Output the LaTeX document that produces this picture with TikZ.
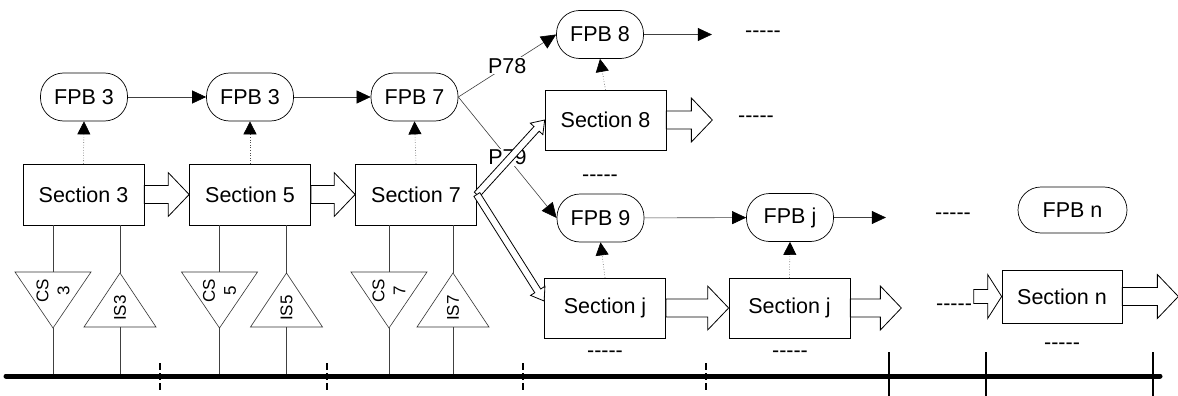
\documentclass[tikz,border=0pt]{standalone}
\usepackage{fontspec}
\setmainfont{Liberation Sans}
\usetikzlibrary{calc,arrows.meta}
\newcommand\fivedash{-{}-{}-{}-{}-}
\begin{document}
\begin{tikzpicture}[x=1pt,y=-1pt,
  every node/.style={font=\fontsize{21.5}{25}\selectfont},
  fpb/.style={draw=black, line width=0.7pt, fill=white, rounded corners=23pt,
    minimum width=87pt, minimum height=48pt, inner sep=0pt},
  sect/.style={draw=black, line width=0.7pt, fill=white,
    minimum width=121pt, minimum height=61pt, inner sep=0pt},
  wire/.style={draw=black!75, line width=0.6pt},
  flow/.style={wire, -{Triangle[length=14pt,width=13pt,color=black]}},
  feed/.style={draw=black!70, line width=0.6pt, dotted,
    -{Triangle[length=13pt,width=13pt,color=black]}},
  tri/.style={draw=black!80, line width=0.6pt},
  trilbl/.style={rotate=90, align=center, inner sep=0pt,
    font=\fontsize{17}{21}\selectfont},
  gap/.style={inner sep=0pt},
  plbl/.style={fill=white, inner sep=1pt},
  bus/.style={line width=5pt, line cap=round},
  dtick/.style={line width=1.3pt, dash pattern=on 7pt off 3pt},
  stick/.style={line width=1.6pt},
  % hollow block arrow: shaft half width, head half width, head length
  blockarrow/.style n args={3}{draw=black, fill=white, line width=0.8pt,
    to path={
      ($(\tikztostart)!#1!90:(\tikztotarget)$)
      -- ($(\tikztotarget)!#3!(\tikztostart)!#1!-90:(\tikztostart)$)
      -- ($(\tikztotarget)!#3!(\tikztostart)!#2!-90:(\tikztostart)$)
      -- (\tikztotarget)
      -- ($(\tikztotarget)!#3!(\tikztostart)!#2!90:(\tikztostart)$)
      -- ($(\tikztotarget)!#3!(\tikztostart)!#1!90:(\tikztostart)$)
      -- ($(\tikztostart)!#1!-90:(\tikztotarget)$)
      -- cycle}},
  wide/.style={blockarrow={9pt}{22pt}{21pt}},
  slim/.style={blockarrow={3.5pt}{8.5pt}{12pt}}
]
\useasboundingbox (0,0) rectangle (1178,396);

% function blocks
\node[fpb] (fpb3a) at (84,97) {FPB 3};
\node[fpb] (fpb3b) at (250,97) {FPB 3};
\node[fpb] (fpb7) at (414.5,97) {FPB 7};
\node[fpb] (fpb8) at (600,34.5) {FPB 8};
\node[fpb] (fpb9) at (600.5,218) {FPB 9};
\node[fpb] (fpbj) at (790,217.5) {FPB j};
\node[fpb, minimum width=109pt, minimum height=46pt] (fpbn) at (1072.5,210) {FPB n};

% sections
\node[sect] (s3) at (83.5,194.5) {Section 3};
\node[sect] (s5) at (250,194.5) {Section 5};
\node[sect] (s7) at (416,194.5) {Section 7};
\node[sect, minimum height=60pt] (s8) at (605.5,120) {Section 8};
\node[sect, minimum height=60pt] (sj) at (605,308) {Section j};
\node[sect, minimum height=60pt] (sj2) at (789.5,308) {Section j};
\node[sect, minimum width=120pt, minimum height=53pt] (sn) at (1062,296.5) {Section n};

% continuation marks
\node[gap] (d1) at (763,34) {\fivedash};
\node[gap] (d2) at (756,119) {\fivedash};
\node[gap] (d3) at (600,178) {\fivedash};
\node[gap] (d4) at (953,216) {\fivedash};
\node[gap] (d5) at (954,307) {\fivedash};
\node[gap] (d6) at (605,354) {\fivedash};
\node[gap] (d7) at (790,354) {\fivedash};
\node[gap] (d8) at (1062,346) {\fivedash};

% free ends
\coordinate (o8) at ([xshift=68pt]fpb8.east);
\coordinate (oj) at ([xshift=52pt]fpbj.east);
\coordinate (os8) at ([xshift=46pt]s8.east);
\coordinate (osj) at ([xshift=51pt]sj2.east);
\coordinate (isn) at ([xshift=-28pt]sn.west);
\coordinate (osn) at ([xshift=56pt]sn.east);
\coordinate (sjin) at ([yshift=7pt]sj.west);

% block-to-block flow
\draw[flow] (fpb3a) -- (fpb3b);
\draw[flow] (fpb3b) -- (fpb7);
\draw[flow] (fpb8) -- (o8);
\draw[flow] (fpb9) -- (fpbj);
\draw[flow] (fpbj) -- (oj);
\draw[flow, -{Triangle[length=15pt,width=14pt,color=black]}] (fpb7.east) -- node[plbl] {P78} (fpb8.west);
\draw[flow, -{Triangle[length=15pt,width=14pt,color=black]}] (fpb7.east) -- node[plbl] {P79} (fpb9.west);

% section feeds
\foreach \s/\f in {s3/fpb3a, s5/fpb3b, s7/fpb7, s8/fpb8, sj/fpb9, sj2/fpbj}
  \draw[feed] (\s.north) -- (\f.south);

% section transfers
\draw[wide] (s3.east) to (s5.west);
\draw[wide] (s5.east) to (s7.west);
\draw[wide] (s8.east) to (os8);
\draw[wide] (sj.east) to (sj2.west);
\draw[wide] (sj2.east) to (osj);
\draw[blockarrow={7pt}{22pt}{14pt}] (isn) to (sn.west);
\draw[wide] (sn.east) to (osn);
\draw[slim] (s7.east) to (s8.west);
\draw[slim] (s7.east) to (sjin);

% bus
\coordinate (busL) at (6,376);
\coordinate (busR) at (1160,376);

% CS / IS stages
\foreach \n/\cx/\ix/\sec in {3/53/120/s3, 5/219.5/286.5/s5, 7/389/453/s7}{
  \coordinate (cs\n-t) at (\cx,272);
  \coordinate (cs\n-b) at (\cx,328);
  \draw[tri] (\cx-38,272) -- (\cx+38,272) -- (cs\n-b) -- cycle;
  \node[trilbl] (cs\n) at (\cx,291) {CS\\\n};
  \coordinate (is\n-t) at (\ix,273);
  \coordinate (is\n-b) at (\ix,327);
  \draw[tri] (is\n-t) -- (\ix+36,327) -- (\ix-36,327) -- cycle;
  \node[trilbl] (is\n) at (\ix,308) {IS\n};
  \draw[wire] (\sec.south -| cs\n-t) -- (cs\n-t);
  \draw[wire] (cs\n-b) -- (cs\n-b |- busL);
  \draw[wire] (\sec.south -| is\n-t) -- (is\n-t);
  \draw[wire] (is\n-b) -- (is\n-b |- busL);
}

\draw[bus] (busL) -- (busR);

% section boundaries on the bus
\foreach \x in {160,327,523,706}
  \draw[dtick] (\x,363) -- (\x,392);
\foreach \x in {889,986,1153}
  \draw[stick] (\x,352) -- (\x,396);
\end{tikzpicture}
\end{document}
